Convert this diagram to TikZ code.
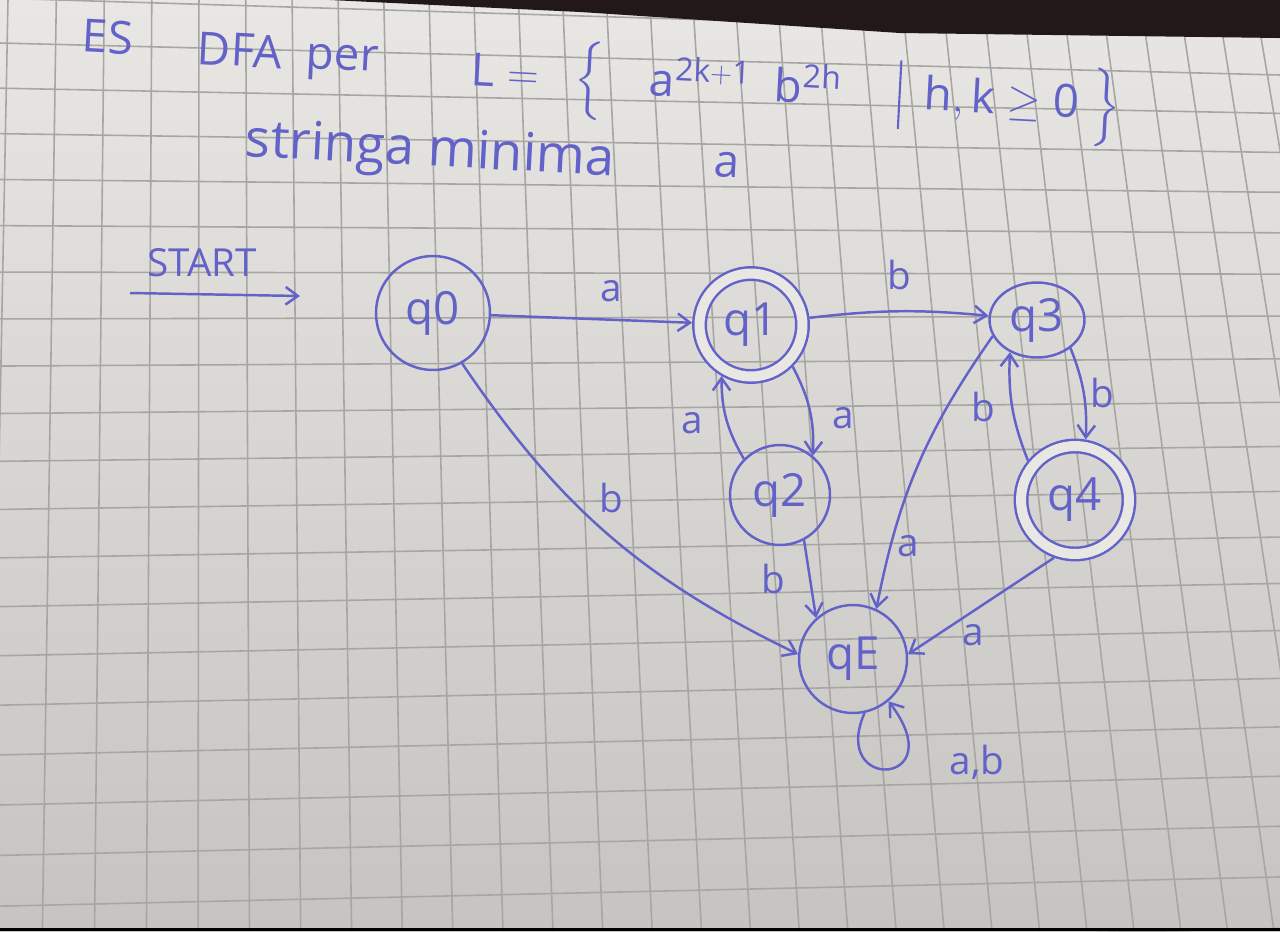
\documentclass[tikz,border=0pt]{standalone}
\usepackage{amsmath}
\usepackage{fontspec}
\setmainfont{Open Sans}
\usetikzlibrary{arrows.meta}
\usetikzlibrary{shapes.geometric}
\definecolor{ink}{RGB}{98,98,200}
\definecolor{paper}{RGB}{232,231,228}
\definecolor{paperdark}{RGB}{198,196,193}
\definecolor{gridline}{RGB}{168,166,162}
\definecolor{tabletop}{RGB}{34,24,24}
\tikzset{stato/.style={circle, draw=ink, line width=1.4pt, minimum size=#1, inner sep=0pt, text=ink, font=\fontsize{26}{30}\selectfont},
%default diameter of a state
stato/.default={2cm},
finale/.style={stato=#1, double=paper, double distance=0.2cm, outer sep=0.15cm},
pijl/.style={->, draw=ink, line width=1.4pt},
etich/.style={text=ink, font=\fontsize{22}{26}\selectfont},
kop/.style={text=ink, font=\fontsize{26}{30}\selectfont, rotate=-3}}

\begin{document}
\begin{tikzpicture}[x=0.02cm, y=-0.02cm, >={Straight Barb[length=7pt,width=10pt]}]
\useasboundingbox (0,0) rectangle (1280,931);
\clip (0,0) rectangle (1280,931);
% paper
\shade[top color=paper, bottom color=paperdark] (0,0) rectangle (1280,931);
\foreach \i in {0,...,30} {
  \pgfmathsetmacro\xt{8+48.5*\i-0.19*\i*\i}
  \pgfmathsetmacro\xb{-10+52.5*\i-0.12*\i*\i}
  \draw[gridline, line width=0.9pt] (\xt,0) -- (\xb,931);
}
\foreach \j in {-1,...,19} {
  \pgfmathsetmacro\yl{43+45*\j+0.164*\j*\j}
  \pgfmathsetmacro\yr{75+38*\j+0.364*\j*\j}
  \draw[gridline, line width=0.9pt] (0,\yl) -- (1280,\yr);
}
\fill[tabletop] (330,0) -- (1280,0) -- (1280,38) -- (900,33) -- (580,12) -- cycle;
\fill[black] (0,928) rectangle (1280,931);

% title
\node[kop] (es) at (108,37) {ES};
\node[kop] (dfa) at (240,50) {DFA};
\node[kop] (per) at (342,63) {per};
\node[kop] (lang) at (796,92) {$\mathrm{L} =\ \ \Big\{\quad \mathrm{a}^{\mathrm{2k+1}}\ \ \mathrm{b}^{\mathrm{2h}}\quad\ \rule[-0.45em]{1.2pt}{1.5em}\ \ \mathrm{h,k}\geq \mathrm{0}\ \Big\}$};
\node[kop, font=\fontsize{30}{34}\selectfont] (minlab) at (430,153) {stringa minima};
\node[kop] (minstr) at (727,165) {a};

% states
\node[stato=2.28cm] (q0) at (433,313) {q0};
\node[finale=2.06cm] (q1) at (751,325) {q1};
\node[stato=2.0cm] (q2) at (780,495) {q2};
\node[stato, ellipse, minimum width=1.9cm, minimum height=1.5cm] (q3) at (1037,320) {q3};
\node[finale=2.16cm] (q4) at (1075,500) {q4};
\node[stato=2.16cm] (qE) at (853,659) {qE};

% start
\coordinate (s0) at (130,293);
\coordinate (s1) at (300,296);
\draw[pijl] (s0) -- (s1);
\node[etich] (startlab) at (202,263) {START};

%transitions
\draw[pijl] (q0) -- node[etich, pos=0.6, above=6pt] (l01) {a} (q1);
\draw[pijl] (q1) to[bend left=6] node[etich, above=8pt] (l13) {b} (q3);
\draw[pijl] (q1.-45) to[bend left=15] node[etich, pos=0.6, right=8pt] (l12) {a} (q2.50);
\draw[pijl] (q2.135) to[bend left=15] node[etich, pos=0.45, left=10pt] (l21) {a} (q1.-120);
\draw[pijl] (q2.-62) -- node[etich, left=10pt] (l2E) {b} (qE.132);
\draw[pijl] (q0.-60) to[bend right=15] node[etich, pos=0.45, above right] (l0E) {b} (qE.175);
\draw[pijl] (q3.200) to[bend right=12] node[etich, pos=0.8, right] (l3E) {a} (qE.65);
\draw[pijl] (q3.-40) to[bend left=12] node[etich, right] (l34) {b} (q4.80);
\draw[pijl] (q4.140) to[bend left=12] node[etich, left=6pt] (l43) {b} (q3.-130);
\draw[pijl] (q4.-110) -- node[etich, pos=0.55, below=4pt] (l4E) {a} (qE.5);
\draw[pijl] (qE.-78) .. controls +(-35,80) and +(65,85) .. (qE.-50);
\node[etich] (lEE) at (977,762) {a,b};
\end{tikzpicture}
\end{document}
